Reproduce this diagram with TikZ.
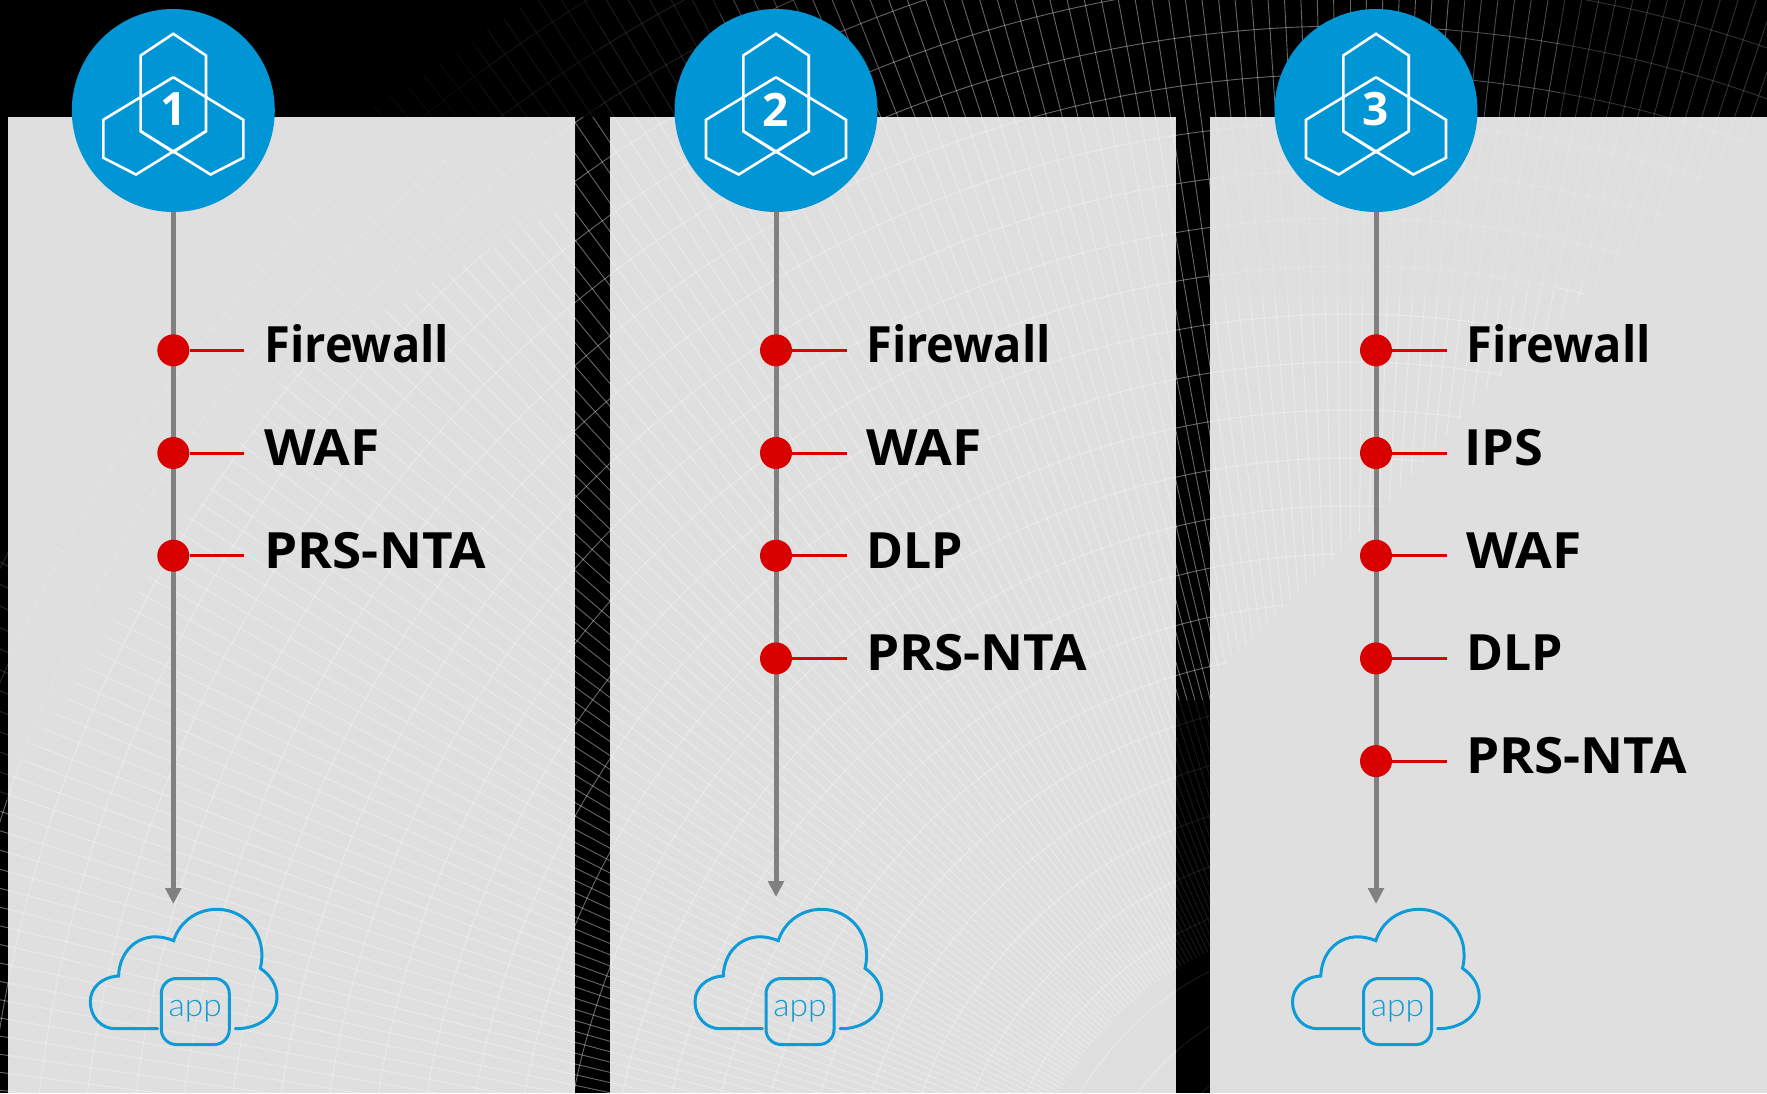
\documentclass[tikz,border=0pt]{standalone}
\usepackage{fontspec}
\setmainfont{Open Sans}
\newfontfamily\appfont{Lato Light}
\usetikzlibrary{arrows.meta}
\definecolor{hubblue}{RGB}{0,149,213}
\definecolor{cloudblue}{RGB}{14,155,215}
\definecolor{panelgray}{RGB}{223,223,223}
\definecolor{stemgray}{RGB}{128,128,128}
\definecolor{dotred}{RGB}{217,0,0}
\tikzset{
  hub/.style={circle,fill=hubblue,minimum size=203pt,inner sep=0pt},
  hubnum/.style={text=white,inner sep=0pt,font=\fontsize{46}{46}\selectfont\bfseries},
  hubline/.style={draw=white,line width=2.6pt,line join=miter},
  stem/.style={draw=stemgray,line width=5pt,-{Triangle[length=16pt,width=15.5pt]}},
  dot/.style={circle,fill=dotred,minimum size=32pt,inner sep=0pt},
  tick/.style={draw=dotred,line width=3pt},
  lab/.style={anchor=base west,inner sep=0pt,font=\fontsize{50}{50}\selectfont\bfseries,text=black},
  cloudline/.style={draw=cloudblue,line width=3pt,line cap=round,line join=miter},
  appbox/.style={draw=cloudblue,line width=3pt,rounded corners=15pt,minimum width=68pt,minimum height=66pt,inner sep=0pt,text=cloudblue,font=\appfont\fontsize{32}{32}\selectfont},
  panel/.style={fill=panelgray,draw=none},
}
\newcommand\meshlines[1]{%
  \foreach \r in {216,264,...,1900} {\draw[#1] (1350,1250) circle [radius=\r pt];}
  \foreach \a in {60,60.75,...,190} {\draw[#1] (1350,1250) ++(\a:330pt) -- ++(\a:1800pt);}
}
\newcommand\hubmark[1]{%
  \begin{scope}[shift={(#1,110.5)}]
    \draw[hubline] (0,-76.7)--(32.7,-55)--(32.7,20.7)--(0,41.7)--(-32.7,20.7)--(-32.7,-55)--cycle;
    \draw[hubline] (0,-33.3)--(-70,9.3)--(-70,47.3)--(-37.3,64)--(32.7,20.7);
    \draw[hubline] (0,-33.3)--(70,9.3)--(70,47.3)--(37.3,64)--(-32.7,20.7);
  \end{scope}}
\newcommand\cloudmark[2]{%
  \begin{scope}[shift={(#1,0)}]
    \draw[cloudline] (62,1028.7) .. controls (86,1029) and (103.7,1015) .. (103.7,996.7)
      .. controls (103.7,985) and (97,975) .. (87,968.3)
      .. controls (95,935) and (72,909.3) .. (43.7,909.3)
      .. controls (22,909.3) and (6,923) .. (0.3,940.7)
      .. controls (-30,928) and (-54,948) .. (-54.7,976)
      .. controls (-72,977) and (-83,988) .. (-83,1001.7)
      .. controls (-83,1017) and (-72,1028.7) .. (-58,1028.7) -- (-15.7,1028.7);
    \node[appbox] (#2) at (22,1011.5) {\raisebox{-2pt}{\scalebox{1.05}[1]{app}}};
  \end{scope}}
\newcommand\stage[6]{% id, x, row y, label, label nudge, width factor
  \node[dot] (d#1) at (#2,#3) {};
  \coordinate (e#1) at (#2+71,#3);
  \draw[tick] (d#1) -- (e#1);
  \node[lab] (t#1) at (#2+90+#5,#3+12.5) {\scalebox{#6}[1]{#4}};
}
\begin{document}
\begin{tikzpicture}[x=1pt,y=-1pt]
\useasboundingbox (0,0) rectangle (1767,1093);
\fill[black] (0,0) rectangle (1767,1093);
% backdrop mesh on black
\begin{scope}
  \clip (530,0)--(360,117)--(0,560)--(0,1093)--(1767,1093)--(1767,0)--cycle;
  \meshlines{white,opacity=.4,line width=.9pt}
\end{scope}
% dimming of the mesh on black
\foreach \xa/\xb/\o in {360/480/.9,480/600/.82,600/720/.7,720/800/.35,800/880/.1,1450/1560/.25,1560/1767/.5}
  {\fill[black,opacity=\o] (\xa,0) rectangle (\xb,117);}
\fill[black,opacity=.75] (1176,700) rectangle (1210,1093);
\fill[black,opacity=.6] (0,117) rectangle (8,800);
% panels
\fill[panel] (8,117) rectangle (575,1093);
\fill[panel] (610,117) rectangle (1176,1093);
\fill[panel] (1210,117) rectangle (1767,1093);
% mesh seen through the panels
\begin{scope}
  \clip (8,600)--(300,200)--(575,117)--(575,1093)--(8,1093)--cycle
        (610,117) rectangle (1176,1093)
        (1210,117)--(1767,117)--(1600,280)--(1485,391)--(1374,518)--(1210,680)--cycle;
  \meshlines{white,opacity=.3,line width=1pt}
\end{scope}
% softening of the panel mesh toward the far corners
\fill[panelgray,opacity=.55] (8,780)--(8,560)--(300,180)--(575,117)--(575,200)--(300,360)--cycle;
\fill[panelgray,opacity=.45] (1210,117)--(1767,117)--(1767,280)--(1600,280)--(1485,300)--(1210,300)--cycle;
% column 1
\node[hub] (h1) at (173.3,110.5) {};
\coordinate (tip1) at (173.3,904);
\draw[stem] (h1.south) -- (tip1);
\hubmark{173.3}
\node[hubnum] (n1) at (173.3,109.5) {1};
\stage{a1}{173.3}{350.3}{Firewall}{1}{.94}
\stage{a2}{173.3}{453}{WAF}{1}{1.065}
\stage{a3}{173.3}{555.7}{PRS-NTA}{1}{1.06}
\cloudmark{173.3}{app1}
% column 2
\node[hub] (h2) at (776,110.5) {};
\coordinate (tip2) at (776,897);
\draw[stem] (h2.south) -- (tip2);
\hubmark{776}
\node[hubnum] (n2) at (776,109.5) {2};
\stage{b1}{776}{350.3}{Firewall}{0}{.94}
\stage{b2}{776}{453}{WAF}{0}{1.065}
\stage{b3}{776}{555.7}{DLP}{0}{1}
\stage{b4}{776}{658.4}{PRS-NTA}{0}{1.06}
\cloudmark{778}{app2}
% column 3
\node[hub] (h3) at (1376,110.5) {};
\coordinate (tip3) at (1376,904);
\draw[stem] (h3.south) -- (tip3);
\hubmark{1376}
\node[hubnum] (n3) at (1376,109.5) {3};
\stage{c1}{1376}{350.3}{Firewall}{0}{.94}
\stage{c2}{1376}{453}{IPS}{-2}{1.045}
\stage{c3}{1376}{555.7}{WAF}{0}{1.065}
\stage{c4}{1376}{658.4}{DLP}{0}{1}
\stage{c5}{1376}{761.1}{PRS-NTA}{0}{1.06}
\cloudmark{1375.5}{app3}
\end{tikzpicture}
\end{document}
